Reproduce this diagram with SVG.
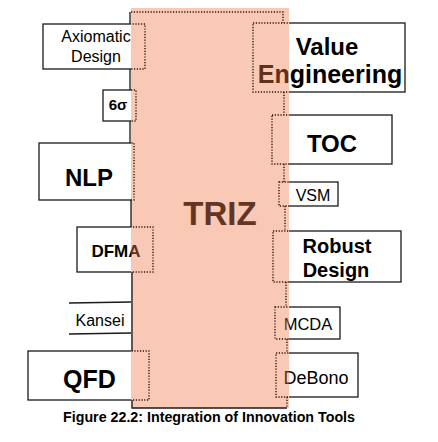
<svg xmlns="http://www.w3.org/2000/svg" width="438" height="442" viewBox="0 0 438 442">
<defs>
<clipPath id="out"><rect x="0" y="0" width="131" height="442"/><rect x="289" y="0" width="149" height="442"/></clipPath>
<clipPath id="in"><rect x="131" y="0" width="158" height="442"/></clipPath>
</defs>
<style>
.box{fill:#fff;stroke:#1a1a1a;stroke-width:1.3}
.dot{fill:none;stroke:#2a1208;stroke-width:1.4;stroke-dasharray:1.2 1.6}
.sol{fill:none;stroke:#1a1a1a;stroke-width:1.3}
text{font-family:"Liberation Sans",Arial,sans-serif;fill:#000;text-anchor:middle}
.b{font-weight:bold}
</style>
<rect width="438" height="442" fill="#fff"/>

<g id="node-axiomatic">
<rect class="box" x="43" y="24" width="102" height="45" clip-path="url(#out)"/>
<text x="96" y="42" font-size="16">Axiomatic</text>
<text x="96" y="62" font-size="16">Design</text>
</g>
<g id="node-6sigma">
<rect class="box" x="103" y="90" width="33" height="31" clip-path="url(#out)"/>
<text class="b" x="118" y="110" font-size="15">6σ</text>
</g>
<g id="node-nlp">
<rect class="box" x="39" y="143" width="95" height="57" clip-path="url(#out)"/>
<text class="b" x="89" y="186" font-size="24">NLP</text>
</g>
<g id="node-dfma">
<rect class="box" x="77" y="227" width="76" height="45" clip-path="url(#out)"/>
<text class="b" x="116" y="257" font-size="17">DFMA</text>
</g>
<g id="node-kansei">
<line class="sol" x1="69" y1="303" x2="131" y2="302"/>
<line class="sol" x1="69" y1="334" x2="131" y2="333"/>
<text x="100" y="326" font-size="16">Kansei</text>
</g>
<g id="node-qfd">
<rect class="box" x="28" y="351" width="121" height="49" clip-path="url(#out)"/>
<text class="b" x="89.5" y="388" font-size="25">QFD</text>
</g>

<g id="node-value-engineering">
<rect class="box" x="253" y="23" width="152" height="69" clip-path="url(#out)"/>
<text class="b" x="327" y="55" font-size="24">Value</text>
<text class="b" x="330" y="83" font-size="25">Engineering</text>
</g>
<g id="node-toc">
<rect class="box" x="272" y="115" width="120" height="49" clip-path="url(#out)"/>
<text class="b" x="332" y="152" font-size="24">TOC</text>
</g>
<g id="node-vsm">
<rect class="box" x="279" y="182" width="59" height="24" clip-path="url(#out)"/>
<text x="313" y="201" font-size="16">VSM</text>
</g>
<g id="node-robust-design">
<rect class="box" x="273" y="231" width="128" height="51" clip-path="url(#out)"/>
<text class="b" x="337" y="253" font-size="20">Robust</text>
<text class="b" x="336" y="277" font-size="20">Design</text>
</g>
<g id="node-mcda">
<rect class="box" x="275" y="307" width="65" height="32" clip-path="url(#out)"/>
<text x="308" y="330" font-size="16.5">MCDA</text>
</g>
<g id="node-debono">
<rect class="box" x="276" y="353" width="82" height="44" clip-path="url(#out)"/>
<text x="316" y="384" font-size="18">DeBono</text>
</g>

<g id="node-triz">
<rect x="131" y="8" width="158" height="400" fill="#f07846" fill-opacity="0.4"/>
<text class="b" x="220" y="225" font-size="33" style="fill:#643424">TRIZ</text>
</g>

<g id="connectors">
<path class="sol" d="M130 12 V24 M130 69 V90 M130 121 V143 M131 200 V227 M132 272 V351 M132 400 V408 H287"/>
<path class="dot" d="M131 12 H283 V23 M284 92 V115 M284 164 V182 M285 206 V231 M286 282 V307 M287 339 V353 M287 397 V408"/>
<g clip-path="url(#in)">
<rect class="dot" x="43" y="24" width="102" height="45"/>
<rect class="dot" x="103" y="90" width="33" height="31"/>
<rect class="dot" x="39" y="143" width="95" height="57"/>
<rect class="dot" x="77" y="227" width="76" height="45"/>
<rect class="dot" x="28" y="351" width="121" height="49"/>
<rect class="dot" x="253" y="23" width="152" height="69"/>
<rect class="dot" x="272" y="115" width="120" height="49"/>
<rect class="dot" x="279" y="182" width="59" height="24"/>
<rect class="dot" x="273" y="231" width="128" height="51"/>
<rect class="dot" x="275" y="307" width="65" height="32"/>
<rect class="dot" x="276" y="353" width="82" height="44"/>
</g>
</g>

<text class="b" x="209" y="422" font-size="14" textLength="292" lengthAdjust="spacingAndGlyphs">Figure 22.2: Integration of Innovation Tools</text>
</svg>
